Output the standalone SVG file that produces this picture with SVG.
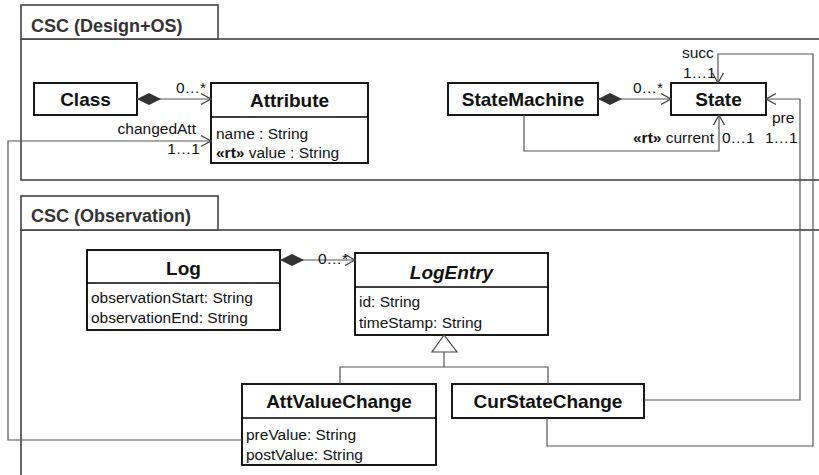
<svg xmlns="http://www.w3.org/2000/svg" width="819" height="475" viewBox="0 0 819 475">
<defs>
<style>
text{font-family:"Liberation Sans",Arial,sans-serif;fill:#111}
.t{font-size:15.5px}
.h{font-size:19px;font-weight:bold;text-anchor:middle}
.p{font-size:18px;font-weight:bold;fill:#333}
.pk{fill:#fff;stroke:#444;stroke-width:1.6}
.box{fill:#fff;stroke:#000;stroke-width:1.8}
.sep{stroke:#000;stroke-width:1.5}
.c{fill:none;stroke:#555;stroke-width:1.2}
.r{text-anchor:end}
</style>
<marker id="arr" markerUnits="userSpaceOnUse" markerWidth="12" markerHeight="14" refX="10" refY="6" orient="auto" viewBox="0 0 12 12">
<path d="M0,0.5 L10,6 L0,11.5" fill="none" stroke="#444" stroke-width="1.3"/>
</marker>
<marker id="dia" markerUnits="userSpaceOnUse" markerWidth="26" markerHeight="14" refX="0" refY="6" orient="auto" viewBox="0 0 26 12">
<path d="M0,6 L12,0 L24,6 L12,12 z" fill="#333"/>
</marker>
</defs>

<g id="pkg-design">
<rect class="pk" x="21" y="39" width="830" height="141"/>
<rect class="pk" x="21" y="5" width="197" height="34"/>
<text class="p" x="31" y="32">CSC (Design+OS)</text>
</g>
<g id="pkg-observation">
<rect class="pk" x="21" y="230" width="830" height="270"/>
<rect class="pk" x="21" y="196" width="197" height="34"/>
<text class="p" x="31" y="222">CSC (Observation)</text>
</g>

<g id="Class">
<rect class="box" x="34" y="83" width="103" height="32"/>
<text class="h" x="85.5" y="106">Class</text>
</g>
<g id="Attribute">
<rect class="box" x="211" y="83" width="157" height="80"/>
<line class="sep" x1="211" y1="117" x2="368" y2="117"/>
<text class="h" x="289.5" y="107">Attribute</text>
<text class="t" x="216" y="139">name : String</text>
<text class="t" x="216" y="158"><tspan font-weight="bold">«rt»</tspan> value : String</text>
</g>
<g id="StateMachine">
<rect class="box" x="448" y="83" width="150" height="32"/>
<text class="h" x="523" y="106">StateMachine</text>
</g>
<g id="State">
<rect class="box" x="671" y="83" width="95" height="32"/>
<text class="h" x="718.5" y="106">State</text>
</g>
<g id="Log">
<rect class="box" x="87" y="250" width="193" height="80"/>
<line class="sep" x1="87" y1="283" x2="280" y2="283"/>
<text class="h" x="183.5" y="275">Log</text>
<text class="t" x="91" y="303">observationStart: String</text>
<text class="t" x="91" y="323">observationEnd: String</text>
</g>
<g id="LogEntry">
<rect class="box" x="355" y="253" width="193" height="82"/>
<line class="sep" x1="355" y1="287" x2="548" y2="287"/>
<text class="h" x="451.5" y="279" font-style="italic">LogEntry</text>
<text class="t" x="359" y="307">id: String</text>
<text class="t" x="359" y="328">timeStamp: String</text>
</g>
<g id="AttValueChange">
<rect class="box" x="242" y="384" width="194" height="81"/>
<line class="sep" x1="242" y1="418" x2="436" y2="418"/>
<text class="h" x="339" y="408">AttValueChange</text>
<text class="t" x="246" y="440">preValue: String</text>
<text class="t" x="246" y="460">postValue: String</text>
</g>
<g id="CurStateChange">
<rect class="box" x="452" y="384" width="192" height="34"/>
<text class="h" x="548" y="408">CurStateChange</text>
</g>

<g id="connectors">
<line class="c" x1="137" y1="99" x2="211" y2="99" marker-start="url(#dia)" marker-end="url(#arr)"/>
<text class="t" x="176" y="93">0…*</text>
<line class="c" x1="598" y1="99" x2="671" y2="99" marker-start="url(#dia)" marker-end="url(#arr)"/>
<text class="t" x="633" y="93">0…*</text>
<line class="c" x1="280" y1="260" x2="355" y2="260" marker-start="url(#dia)" marker-end="url(#arr)"/>
<text class="t" x="318" y="264">0…*</text>

<polyline class="c" points="242,440 8,440 8,141 211,141" marker-end="url(#arr)"/>
<text class="t r" x="196" y="134">changedAtt</text>
<text class="t r" x="200" y="154">1…1</text>

<polyline class="c" points="524,115 524,151 719,151 719,115" marker-end="url(#arr)"/>
<text class="t r" x="714" y="143"><tspan font-weight="bold">«rt»</tspan> current</text>
<text class="t" x="722" y="143">0…1</text>

<polyline class="c" points="547,418 547,446 813,446 813,54 718,54 718,83" marker-end="url(#arr)"/>
<text class="t" x="682" y="58">succ</text>
<text class="t" x="683" y="78">1…1</text>

<polyline class="c" points="644,400 800,400 800,99 766,99" marker-end="url(#arr)"/>
<text class="t" x="772" y="123">pre</text>
<text class="t" x="765" y="143">1…1</text>

<polygon points="444,335 432,352 457,352" fill="#fff" stroke="#444" stroke-width="1.2"/>
<polyline class="c" points="444,352 444,367"/>
<polyline class="c" points="340,384 340,367 548,367 548,384"/>
</g>
</svg>
